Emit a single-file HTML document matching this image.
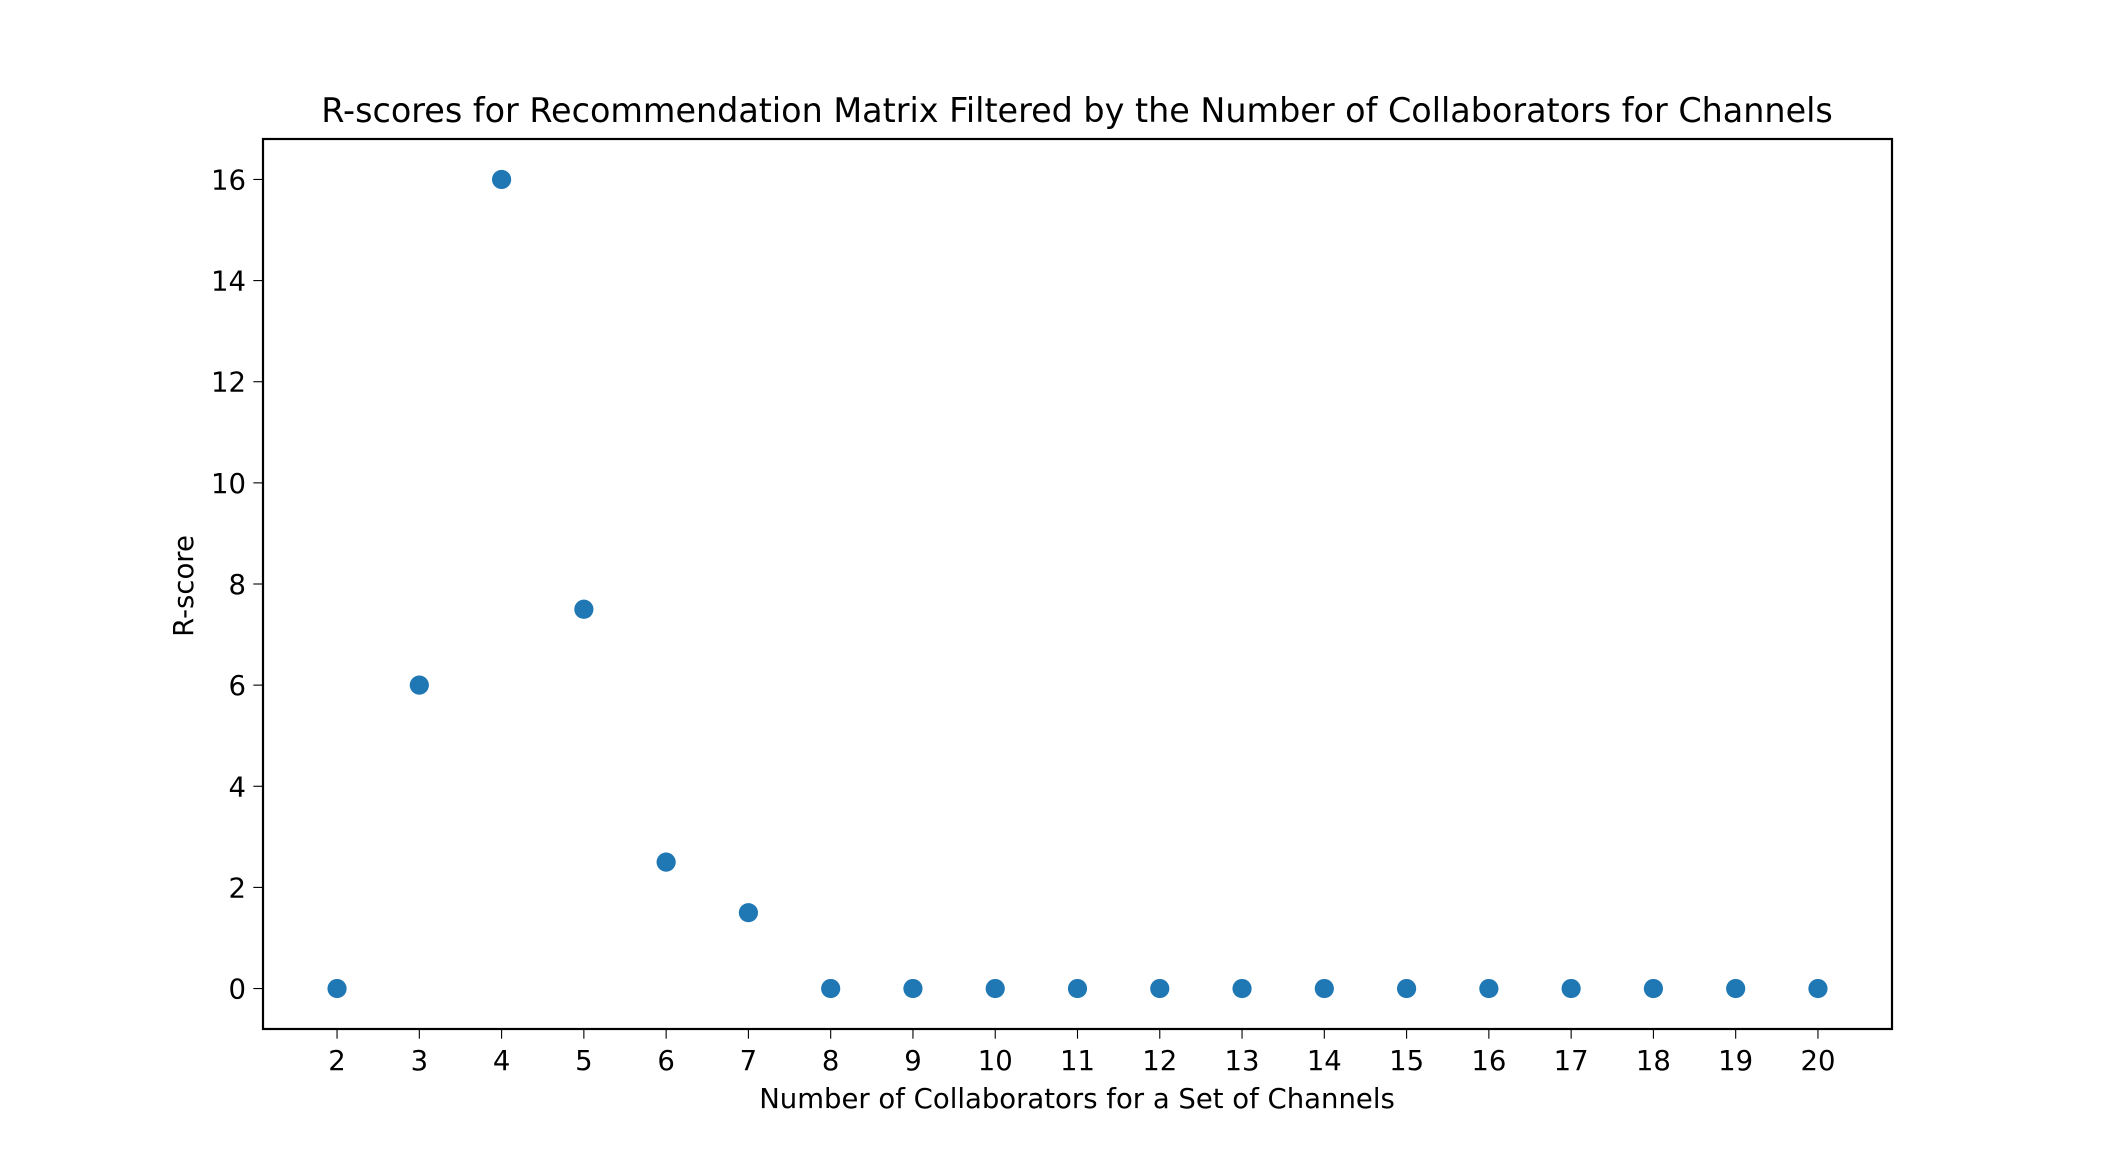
<!DOCTYPE html>
<html><head><meta charset="utf-8"><style>
html,body{margin:0;padding:0;background:#fff;}
svg text{font-family:"DejaVu Sans","Liberation Sans",sans-serif;fill:#000;}
</style></head><body>
<svg id="chart" width="2102" height="1156" viewBox="0 0 2102 1156" xmlns="http://www.w3.org/2000/svg">
<rect x="0" y="0" width="2102" height="1156" fill="#fff"/>
<text x="1077" y="122" font-size="33.4" text-anchor="middle">R-scores for Recommendation Matrix Filtered by the Number of Collaborators for Channels</text>
<g id="plot"></g>
<text x="1077" y="1108" font-size="27.5" text-anchor="middle">Number of Collaborators for a Set of Channels</text>
<text x="0" y="0" font-size="27.5" text-anchor="middle" transform="translate(193,586) rotate(-90)">R-score</text>
</svg>
<script>
const categories = [2,3,4,5,6,7,8,9,10,11,12,13,14,15,16,17,18,19,20];
const rscores = [0,6,16,7.5,2.5,1.5,0,0,0,0,0,0,0,0,0,0,0,0,0];
const yTicks = [0,2,4,6,8,10,12,14,16];
const xTicks = [2,3,4,5,6,7,8,9,10,11,12,13,14,15,16,17,18,19,20];

const L=263,R=1892,T=139,B=1029;
const xMin=1.1,xMax=20.9,yMin=-0.8,yMax=16.8;
function xs(v){return L+(v-xMin)/(xMax-xMin)*(R-L);}
function ys(v){return B-(v-yMin)/(yMax-yMin)*(B-T);}
const NS='http://www.w3.org/2000/svg';
const g=document.getElementById('plot');
function mk(t,a){const e=document.createElementNS(NS,t);for(const k in a)e.setAttribute(k,a[k]);g.appendChild(e);return e;}

xTicks.forEach(v=>{
  const x=xs(v);
  const t=mk('line',{x1:x,x2:x,y1:B,y2:B+9.7,stroke:'#000','stroke-width':1.1});
  
  
  const l=mk('text',{x:x,y:1070,'font-size':27.5,'text-anchor':'middle'});
  l.textContent=v;
  
  
});
yTicks.forEach(v=>{
  const y=ys(v);
  const t=mk('line',{x1:L-9.7,x2:L,y1:y,y2:y,stroke:'#000','stroke-width':1.1});
  
  
  const l=mk('text',{x:L-17,y:y+10,'font-size':27.5,'text-anchor':'end'});
  l.textContent=v;
  
  
});
categories.forEach((c,i)=>{
  const p=mk('circle',{cx:xs(c),cy:ys(rscores[i]),r:9.6,fill:'#1f77b4'});
  
  
});
const f=mk('rect',{x:L,y:T,width:R-L,height:B-T,fill:'none',stroke:'#000','stroke-width':2.2});


</script>
</body></html>
